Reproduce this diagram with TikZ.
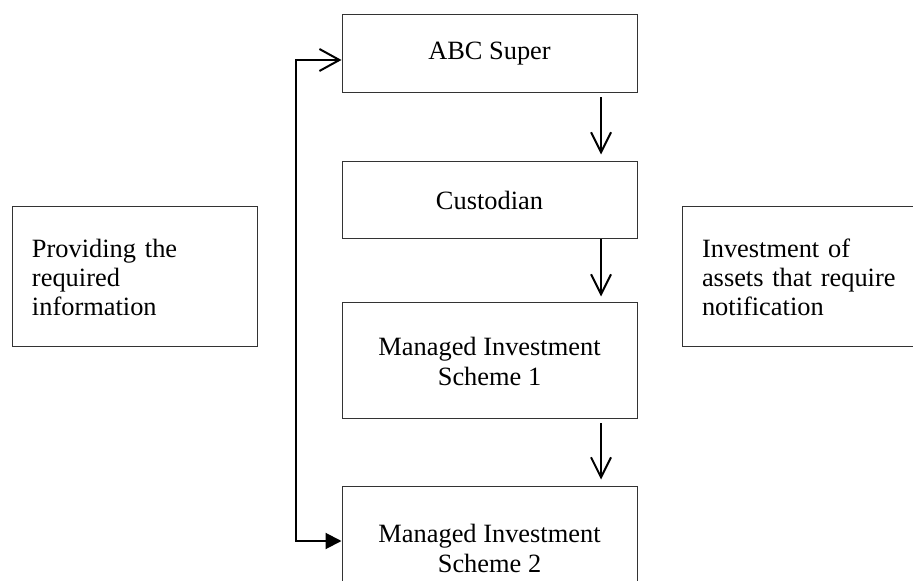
\documentclass[tikz,border=0pt]{standalone}
\usepackage{fontspec}
\setmainfont{Liberation Serif}
\usetikzlibrary{arrows.meta,calc}

\begin{document}
\begin{tikzpicture}[x=0.5pt,y=-0.5pt,
	flowbox/.style={draw=black!80, line width=0.5pt, minimum width=147.5pt, inner sep=0pt, align=center, font=\fontsize{13.2}{15}\selectfont},
	sidebox/.style={draw=black!80, line width=0.5pt, minimum height=70pt, text width=102.5pt, inner xsep=10pt, align=left, font=\fontsize{13.2}{14.5}\selectfont},
	down/.style={-{Straight Barb[length=10pt,width=10pt]}, line width=1pt}]
			\useasboundingbox (0,0) rectangle (913,581);
			
			% chain of entities
			\node[flowbox, minimum height=39pt] (abc) at (489.5,54) {ABC Super};
			\node[flowbox, minimum height=38.5pt] (cust) at (489.5,200.5) {Custodian};
			\node[flowbox, minimum height=58pt] (mis1) at (489.5,361) {Managed Investment\\Scheme 1};
			\node[flowbox, minimum height=62pt] (mis2) at (489.5,548) {Managed Investment\\Scheme 2};
			
			% side notes
			\node[sidebox] (info) at (134.5,277) {Providing the\\required\\information};
			\node[sidebox] (assets) at (804.5,277) {Investment of\\assets that require\\notification};
			
			\draw[down] ([xshift=55.75pt,yshift=-2pt]abc.south) -- ([xshift=55.75pt,yshift=3.5pt]cust.north);
			\draw[down] ([xshift=55.75pt]cust.south) -- ([xshift=55.75pt,yshift=3pt]mis1.north);
			\draw[down] ([xshift=55.75pt,yshift=-2pt]mis1.south) -- ([xshift=55.75pt,yshift=3pt]mis2.north);
			
			\draw[line width=1pt, {Straight Barb[length=10pt,width=11pt]}-{Triangle[length=8pt,width=8pt]}] ([yshift=-3pt]abc.west) -- ++(-46,0) |- ([yshift=3.5pt]mis2.west);
		\end{tikzpicture}
\end{document}
